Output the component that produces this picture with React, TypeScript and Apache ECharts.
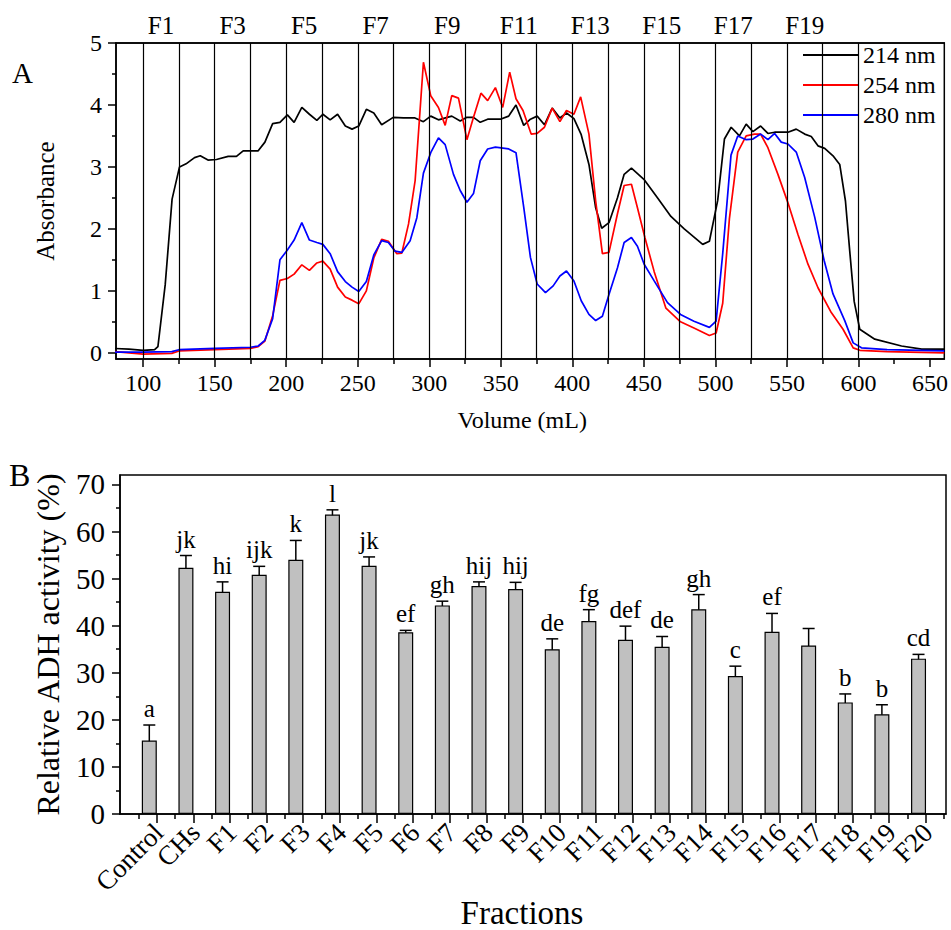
import React, { useEffect, useRef } from "react";
import * as echarts from "echarts";

// ---------- Panel A: elution profile ----------
const abs214: [number, number][] = [
  [80, 0.07], [90, 0.06], [100, 0.04], [108, 0.05], [110.3, 0.1], [115.4, 1.1], [120.2, 2.48], [125.4, 3.0],
  [130, 3.05], [135.9, 3.15], [139.9, 3.18], [145.3, 3.11], [151.2, 3.12], [159.4, 3.17], [165.2, 3.17],
  [169.9, 3.26], [180.4, 3.26], [185.1, 3.4], [190.5, 3.7], [195.6, 3.72], [200.8, 3.84], [205.5, 3.72],
  [210.9, 3.96], [216.2, 3.85], [221.4, 3.75], [225.6, 3.85], [230.7, 3.76], [235.9, 3.85], [241.3, 3.66],
  [246, 3.61], [250.7, 3.66], [256, 3.93], [261.2, 3.87], [266.7, 3.68], [274.8, 3.8], [281.9, 3.79],
  [290, 3.79], [295.9, 3.73], [301, 3.82], [306.4, 3.76], [315.7, 3.82], [321.6, 3.74], [326.3, 3.8],
  [330.9, 3.8], [335.6, 3.72], [340.8, 3.77], [349.7, 3.77], [355.5, 3.82], [360.6, 4.0], [366, 3.67],
  [370.7, 3.77], [375.4, 3.82], [380.5, 3.68], [385.9, 3.95], [391.3, 3.79], [395.9, 3.87], [401.1, 3.78],
  [406.2, 3.52], [411.6, 3.04], [416.3, 2.34], [420.5, 2.01], [425.6, 2.1], [431.5, 2.5], [436.2, 2.88],
  [441.3, 2.98], [450, 2.8], [459.6, 2.5], [468.9, 2.2], [478.2, 2.0], [491.1, 1.75], [495.8, 1.8],
  [501.6, 2.46], [506.3, 3.45], [511, 3.64], [516.8, 3.5], [521.5, 3.69], [526.2, 3.57], [531.6, 3.66],
  [536.7, 3.54], [541.4, 3.56], [550.7, 3.56], [556.5, 3.61], [562.4, 3.53], [567, 3.49], [571.7, 3.34],
  [576.4, 3.3], [582.2, 3.18], [586.9, 3.04], [590.9, 2.45], [593.9, 1.64], [597, 0.83], [600.9, 0.38],
  [611.4, 0.22], [630.1, 0.11], [644.2, 0.06], [660, 0.06],
];

const abs254: [number, number][] = [
  [80, 0.02], [100, -0.02], [120, -0.01], [125, 0.03], [150, 0.05], [175, 0.07], [180.4, 0.1], [185.1, 0.19],
  [190.5, 0.6], [195.6, 1.17], [200.8, 1.2], [205.5, 1.27], [210.9, 1.42], [216.2, 1.33], [221.4, 1.45],
  [225.6, 1.48], [230.7, 1.35], [235.9, 1.06], [241.3, 0.9], [246, 0.85], [250.7, 0.79], [256, 1.0],
  [261.2, 1.53], [266.7, 1.83], [271.4, 1.8], [277.3, 1.6], [280.8, 1.61], [285.5, 2.08], [290.1, 2.78],
  [295.9, 4.69], [301, 4.15], [306.4, 3.96], [311.1, 3.67], [315.7, 4.15], [320.4, 4.11], [326.3, 3.44],
  [330.9, 3.8], [336.1, 4.19], [340.8, 4.07], [346.2, 4.28], [351.3, 3.96], [356.2, 4.53], [360.6, 4.1],
  [365.5, 3.91], [371.2, 3.53], [375.4, 3.54], [380.5, 3.64], [385.9, 3.95], [391.3, 3.73], [395.9, 3.91],
  [401.1, 3.85], [405.8, 4.13], [411.6, 3.53], [416.3, 2.45], [421, 1.6], [425.6, 1.62], [431.5, 2.24],
  [436.2, 2.7], [441.3, 2.72], [445.5, 2.34], [450.7, 1.86], [457.2, 1.31], [465.4, 0.72], [475.6, 0.5],
  [485, 0.4], [495.8, 0.28], [500.5, 0.32], [505.1, 0.8], [509.8, 2.17], [515.6, 3.24], [521.5, 3.5],
  [527.3, 3.53], [531.6, 3.53], [536.7, 3.31], [543.7, 2.88], [550.7, 2.42], [557.7, 1.91], [564.7, 1.43],
  [571.7, 1.05], [581, 0.65], [589.2, 0.38], [596.3, 0.08], [601, 0.04], [620, 0.02], [660, 0.0],
];

const abs280: [number, number][] = [
  [80, 0.01], [100, 0.01], [120, 0.02], [125, 0.05], [150, 0.07], [175, 0.09], [180.4, 0.11], [185, 0.2],
  [190.5, 0.55], [195.6, 1.5], [200.8, 1.66], [205.5, 1.82], [210.9, 2.1], [216.2, 1.82], [221.4, 1.78],
  [225.6, 1.75], [230.7, 1.6], [235.9, 1.31], [241.3, 1.15], [246, 1.06], [250.7, 0.99], [256, 1.15],
  [261.2, 1.58], [266.7, 1.81], [271.4, 1.78], [276.1, 1.64], [280.8, 1.62], [286.6, 1.81], [291.3, 2.18],
  [295.9, 2.9], [301, 3.23], [306.4, 3.47], [311.1, 3.36], [316.9, 2.88], [321.6, 2.62], [326.3, 2.43],
  [330.9, 2.57], [335.6, 3.1], [340.8, 3.29], [346.2, 3.32], [355.5, 3.29], [360.6, 3.23], [366, 2.35],
  [370.7, 1.54], [375.4, 1.11], [381.2, 0.97], [386.6, 1.08], [391.3, 1.24], [395.9, 1.32], [401.1, 1.16],
  [406.2, 0.84], [411.6, 0.62], [416.3, 0.52], [421, 0.59], [425.6, 0.94], [431.5, 1.37], [436.2, 1.78],
  [441.3, 1.86], [445.5, 1.72], [450.2, 1.43], [457.2, 1.16], [466.5, 0.81], [475.6, 0.62], [485, 0.51],
  [495.8, 0.41], [500.5, 0.51], [505.1, 1.6], [510.9, 3.19], [515.6, 3.5], [521.5, 3.44], [526.2, 3.45],
  [531.6, 3.53], [536.7, 3.44], [541.4, 3.54], [546, 3.4], [550.7, 3.37], [556.5, 3.24], [562.4, 2.83],
  [569.4, 2.19], [576, 1.49], [582.2, 0.95], [590.4, 0.52], [596.3, 0.16], [602.1, 0.08], [620, 0.05],
  [660, 0.03],
];

const fractionBounds = [100, 125, 150, 175, 200, 225, 250, 275, 300, 325, 350, 375, 400, 425, 450, 475, 500, 525, 550, 575, 600];
const topFractionLabels = ["F1", "F3", "F5", "F7", "F9", "F11", "F13", "F15", "F17", "F19"];
const topFractionCenters = [112.5, 162.5, 212.5, 262.5, 312.5, 362.5, 412.5, 462.5, 512.5, 562.5];
const volMajorTicks = [100, 150, 200, 250, 300, 350, 400, 450, 500, 550, 600, 650];
const volMinorTicks = [125, 175, 225, 275, 325, 375, 425, 475, 525, 575, 625];
const absMajorTicks = [0, 1, 2, 3, 4, 5];
const absMinorTicks = [0.5, 1.5, 2.5, 3.5, 4.5];

// ---------- Panel B: ADH activity ----------
const categories = ["Control", "CHs", "F1", "F2", "F3", "F4", "F5", "F6", "F7", "F8", "F9", "F10", "F11", "F12", "F13", "F14", "F15", "F16", "F17", "F18", "F19", "F20"];
const activity = [15.6, 52.3, 47.2, 50.8, 54.0, 63.6, 52.7, 38.6, 44.3, 48.4, 47.8, 35.0, 41.0, 37.0, 35.5, 43.5, 29.3, 38.7, 35.8, 23.7, 21.2, 33.0];
const activityErr = [3.3, 2.6, 2.1, 1.8, 4.1, 1.0, 1.9, 0.4, 0.9, 0.9, 1.4, 2.2, 2.4, 2.9, 2.2, 3.1, 2.1, 3.9, 3.6, 1.8, 2.0, 0.9];
const groupLetters = ["a", "jk", "hi", "ijk", "k", "l", "jk", "ef", "gh", "hij", "hij", "de", "fg", "def", "de", "gh", "c", "ef", "", "b", "b", "cd"];
const actMajorTicks = [0, 10, 20, 30, 40, 50, 60, 70];
const actMinorTicks = [5, 15, 25, 35, 45, 55, 65];

const FONT = "'Liberation Serif', 'Times New Roman', serif";
const BLACK = "#000";
const TICK_SHIFT = 0.2; // major ticks sit at the right edge of each bar

export default function App() {
  const ref = useRef<HTMLDivElement>(null);
  useEffect(() => {
    if (!ref.current) return;
    const chart = echarts.init(ref.current, undefined, { renderer: "svg" });

    const catMajor = categories.map((_, i) => i + TICK_SHIFT);
    const catMinor = categories.map((_, i) => i - 0.3).concat([categories.length - 0.3]);

    const option: any = {
      animation: false,
      backgroundColor: "#fff",
      textStyle: { fontFamily: FONT, color: BLACK },
      grid: [
        { left: 116, top: 43, width: 829, height: 316, show: true, borderColor: BLACK, borderWidth: 1.5, backgroundColor: "transparent" },
        { left: 120, top: 475, width: 826, height: 340, show: true, borderColor: BLACK, borderWidth: 1.5, backgroundColor: "transparent" },
      ],
      legend: {
        data: ["214 nm", "254 nm", "280 nm"],
        orient: "vertical",
        left: 803,
        top: 43,
        padding: 0,
        itemGap: 6,
        itemWidth: 55,
        itemHeight: 2,
        icon: "rect",
        textStyle: { fontFamily: FONT, fontSize: 24, color: BLACK, lineHeight: 24 },
      },
      xAxis: [
        {
          gridIndex: 0, type: "value", min: 81, max: 660, position: "bottom",
          axisLine: { show: true, onZero: false, lineStyle: { color: BLACK, width: 1.5 } },
          axisTick: { show: true, inside: false, length: 8, customValues: volMajorTicks, lineStyle: { color: BLACK, width: 1.5 } },
          axisLabel: { customValues: volMajorTicks, fontFamily: FONT, fontSize: 24, color: BLACK, margin: 12 },
          splitLine: { show: false },
          name: "Volume (mL)", nameLocation: "middle", nameGap: 49,
          nameTextStyle: { fontFamily: FONT, fontSize: 24, color: BLACK, padding: [0, 16, 0, 0] },
        },
        {
          gridIndex: 0, type: "value", min: 81, max: 660, position: "top",
          axisLine: { show: true, onZero: false, lineStyle: { color: BLACK, width: 1.5 } },
          axisTick: { show: false },
          axisLabel: {
            customValues: topFractionCenters, fontFamily: FONT, fontSize: 25, color: BLACK, margin: 5,
            showMinLabel: true, showMaxLabel: true,
            formatter: (v: number) => topFractionLabels[topFractionCenters.indexOf(v)] ?? "",
          },
          splitLine: { show: false },
        },
        {
          gridIndex: 0, type: "value", min: 81, max: 660, position: "bottom",
          axisLine: { show: false, onZero: false },
          axisTick: { show: true, inside: false, length: 5, customValues: volMinorTicks, lineStyle: { color: BLACK, width: 1.5 } },
          axisLabel: { show: false },
          splitLine: { show: false },
        },
        {
          gridIndex: 1, type: "value", min: -0.8, max: 21.75, position: "bottom",
          axisLine: { show: true, onZero: false, lineStyle: { color: BLACK, width: 1.5 } },
          axisTick: { show: true, inside: false, length: 9, customValues: catMajor, lineStyle: { color: BLACK, width: 1.5 } },
          axisLabel: { show: false },
          splitLine: { show: false },
          name: "Fractions", nameLocation: "middle", nameGap: 82,
          nameTextStyle: { fontFamily: FONT, fontSize: 33, color: BLACK, padding: [0, 22, 0, 0] },
        },
        {
          gridIndex: 1, type: "value", min: -0.8, max: 21.75, position: "bottom",
          axisLine: { show: false, onZero: false },
          axisTick: { show: true, inside: false, length: 5, customValues: catMinor, lineStyle: { color: BLACK, width: 1.5 } },
          axisLabel: { show: false },
          splitLine: { show: false },
        },
      ],
      yAxis: [
        {
          gridIndex: 0, type: "value", min: -0.1, max: 5, position: "left",
          axisLine: { show: true, onZero: false, lineStyle: { color: BLACK, width: 1.5 } },
          axisTick: { show: true, inside: false, length: 8, customValues: absMajorTicks, lineStyle: { color: BLACK, width: 1.5 } },
          axisLabel: { customValues: absMajorTicks, fontFamily: FONT, fontSize: 24, color: BLACK, margin: 14, showMinLabel: true, showMaxLabel: true },
          splitLine: { show: false },
          name: "Absorbance", nameLocation: "middle", nameGap: 58,
          nameTextStyle: { fontFamily: FONT, fontSize: 25, color: BLACK },
        },
        {
          gridIndex: 0, type: "value", min: -0.1, max: 5, position: "left",
          axisLine: { show: false, onZero: false },
          axisTick: { show: true, inside: false, length: 4, customValues: absMinorTicks, lineStyle: { color: BLACK, width: 1.5 } },
          axisLabel: { show: false },
          splitLine: { show: false },
        },
        {
          gridIndex: 1, type: "value", min: 0, max: 72, position: "left",
          axisLine: { show: true, onZero: false, lineStyle: { color: BLACK, width: 1.5 } },
          axisTick: { show: true, inside: false, length: 8, customValues: actMajorTicks, lineStyle: { color: BLACK, width: 1.5 } },
          axisLabel: { customValues: actMajorTicks, fontFamily: FONT, fontSize: 29, color: BLACK, margin: 15, showMinLabel: true, showMaxLabel: true },
          splitLine: { show: false },
          name: "Relative ADH activity (%)", nameLocation: "middle", nameGap: 56,
          nameTextStyle: { fontFamily: FONT, fontSize: 32, color: BLACK },
        },
        {
          gridIndex: 1, type: "value", min: 0, max: 72, position: "left",
          axisLine: { show: false, onZero: false },
          axisTick: { show: true, inside: false, length: 4, customValues: actMinorTicks, lineStyle: { color: BLACK, width: 1.5 } },
          axisLabel: { show: false },
          splitLine: { show: false },
        },
      ],
      series: [
        {
          name: "214 nm", type: "line", xAxisIndex: 0, yAxisIndex: 0, data: abs214,
          symbol: "none", color: "#000000", lineStyle: { width: 1.7, color: "#000000" },
          markLine: {
            silent: true, symbol: ["none", "none"], label: { show: false },
            lineStyle: { color: BLACK, width: 1.2, type: "solid" },
            data: fractionBounds.map((v) => ({ xAxis: v })),
          },
        },
        {
          name: "254 nm", type: "line", xAxisIndex: 0, yAxisIndex: 0, data: abs254,
          symbol: "none", color: "#ff0000", lineStyle: { width: 1.7, color: "#ff0000" },
        },
        {
          name: "280 nm", type: "line", xAxisIndex: 0, yAxisIndex: 0, data: abs280,
          symbol: "none", color: "#0000ff", lineStyle: { width: 1.7, color: "#0000ff" },
        },
        {
          name: "activity", type: "bar", xAxisIndex: 3, yAxisIndex: 2,
          data: categories.map((_, i) => [i, activity[i]]),
          barWidth: 15,
          itemStyle: { color: "#c0c0c0", borderColor: BLACK, borderWidth: 1.2 },
        },
        {
          name: "error", type: "custom", xAxisIndex: 3, yAxisIndex: 2,
          encode: { x: 0, y: [1, 2] },
          data: categories.map((_, i) => [i, activity[i] - activityErr[i], activity[i] + activityErr[i]]),
          renderItem: (params: any, api: any) => {
            const x = api.value(0);
            const lo = api.coord([x, api.value(1)]);
            const hi = api.coord([x, api.value(2)]);
            const cap = 6;
            const st = { stroke: BLACK, lineWidth: 1.5 };
            return {
              type: "group",
              children: [
                { type: "line", shape: { x1: lo[0], y1: lo[1], x2: hi[0], y2: hi[1] }, style: st },
                { type: "line", shape: { x1: lo[0] - cap, y1: lo[1], x2: lo[0] + cap, y2: lo[1] }, style: st },
                { type: "line", shape: { x1: hi[0] - cap, y1: hi[1], x2: hi[0] + cap, y2: hi[1] }, style: st },
                {
                  type: "text",
                  style: {
                    text: groupLetters[params.dataIndex], x: hi[0], y: hi[1] - 4,
                    align: "center", verticalAlign: "bottom",
                    fontFamily: FONT, fontSize: 25, fill: BLACK,
                  },
                },
              ],
            };
          },
        },
        {
          name: "categoryLabels", type: "custom", xAxisIndex: 3, yAxisIndex: 2,
          silent: true, clip: false,
          encode: { x: 0, y: 1 },
          data: categories.map((_, i) => [i + TICK_SHIFT, 0]),
          renderItem: (params: any, api: any) => {
            const p = api.coord([api.value(0), api.value(1)]);
            return {
              type: "text",
              x: p[0] + 2,
              y: p[1] + 14,
              rotation: Math.PI / 4,
              style: {
                text: categories[params.dataIndex],
                align: "right", verticalAlign: "middle",
                fontFamily: FONT, fontSize: 27, fill: BLACK,
              },
            };
          },
        },
      ],
      graphic: [
        { type: "text", left: 12, top: 58, style: { text: "A", fontFamily: FONT, fontSize: 29, fill: BLACK } },
        { type: "text", left: 9, top: 459, style: { text: "B", fontFamily: FONT, fontSize: 32, fill: BLACK } },
      ],
    };
    chart.setOption(option);
    return () => chart.dispose();
  }, []);
  return <div ref={ref} style={{ position: "absolute", left: 0, top: 0, width: 951, height: 930 }} />;
}
